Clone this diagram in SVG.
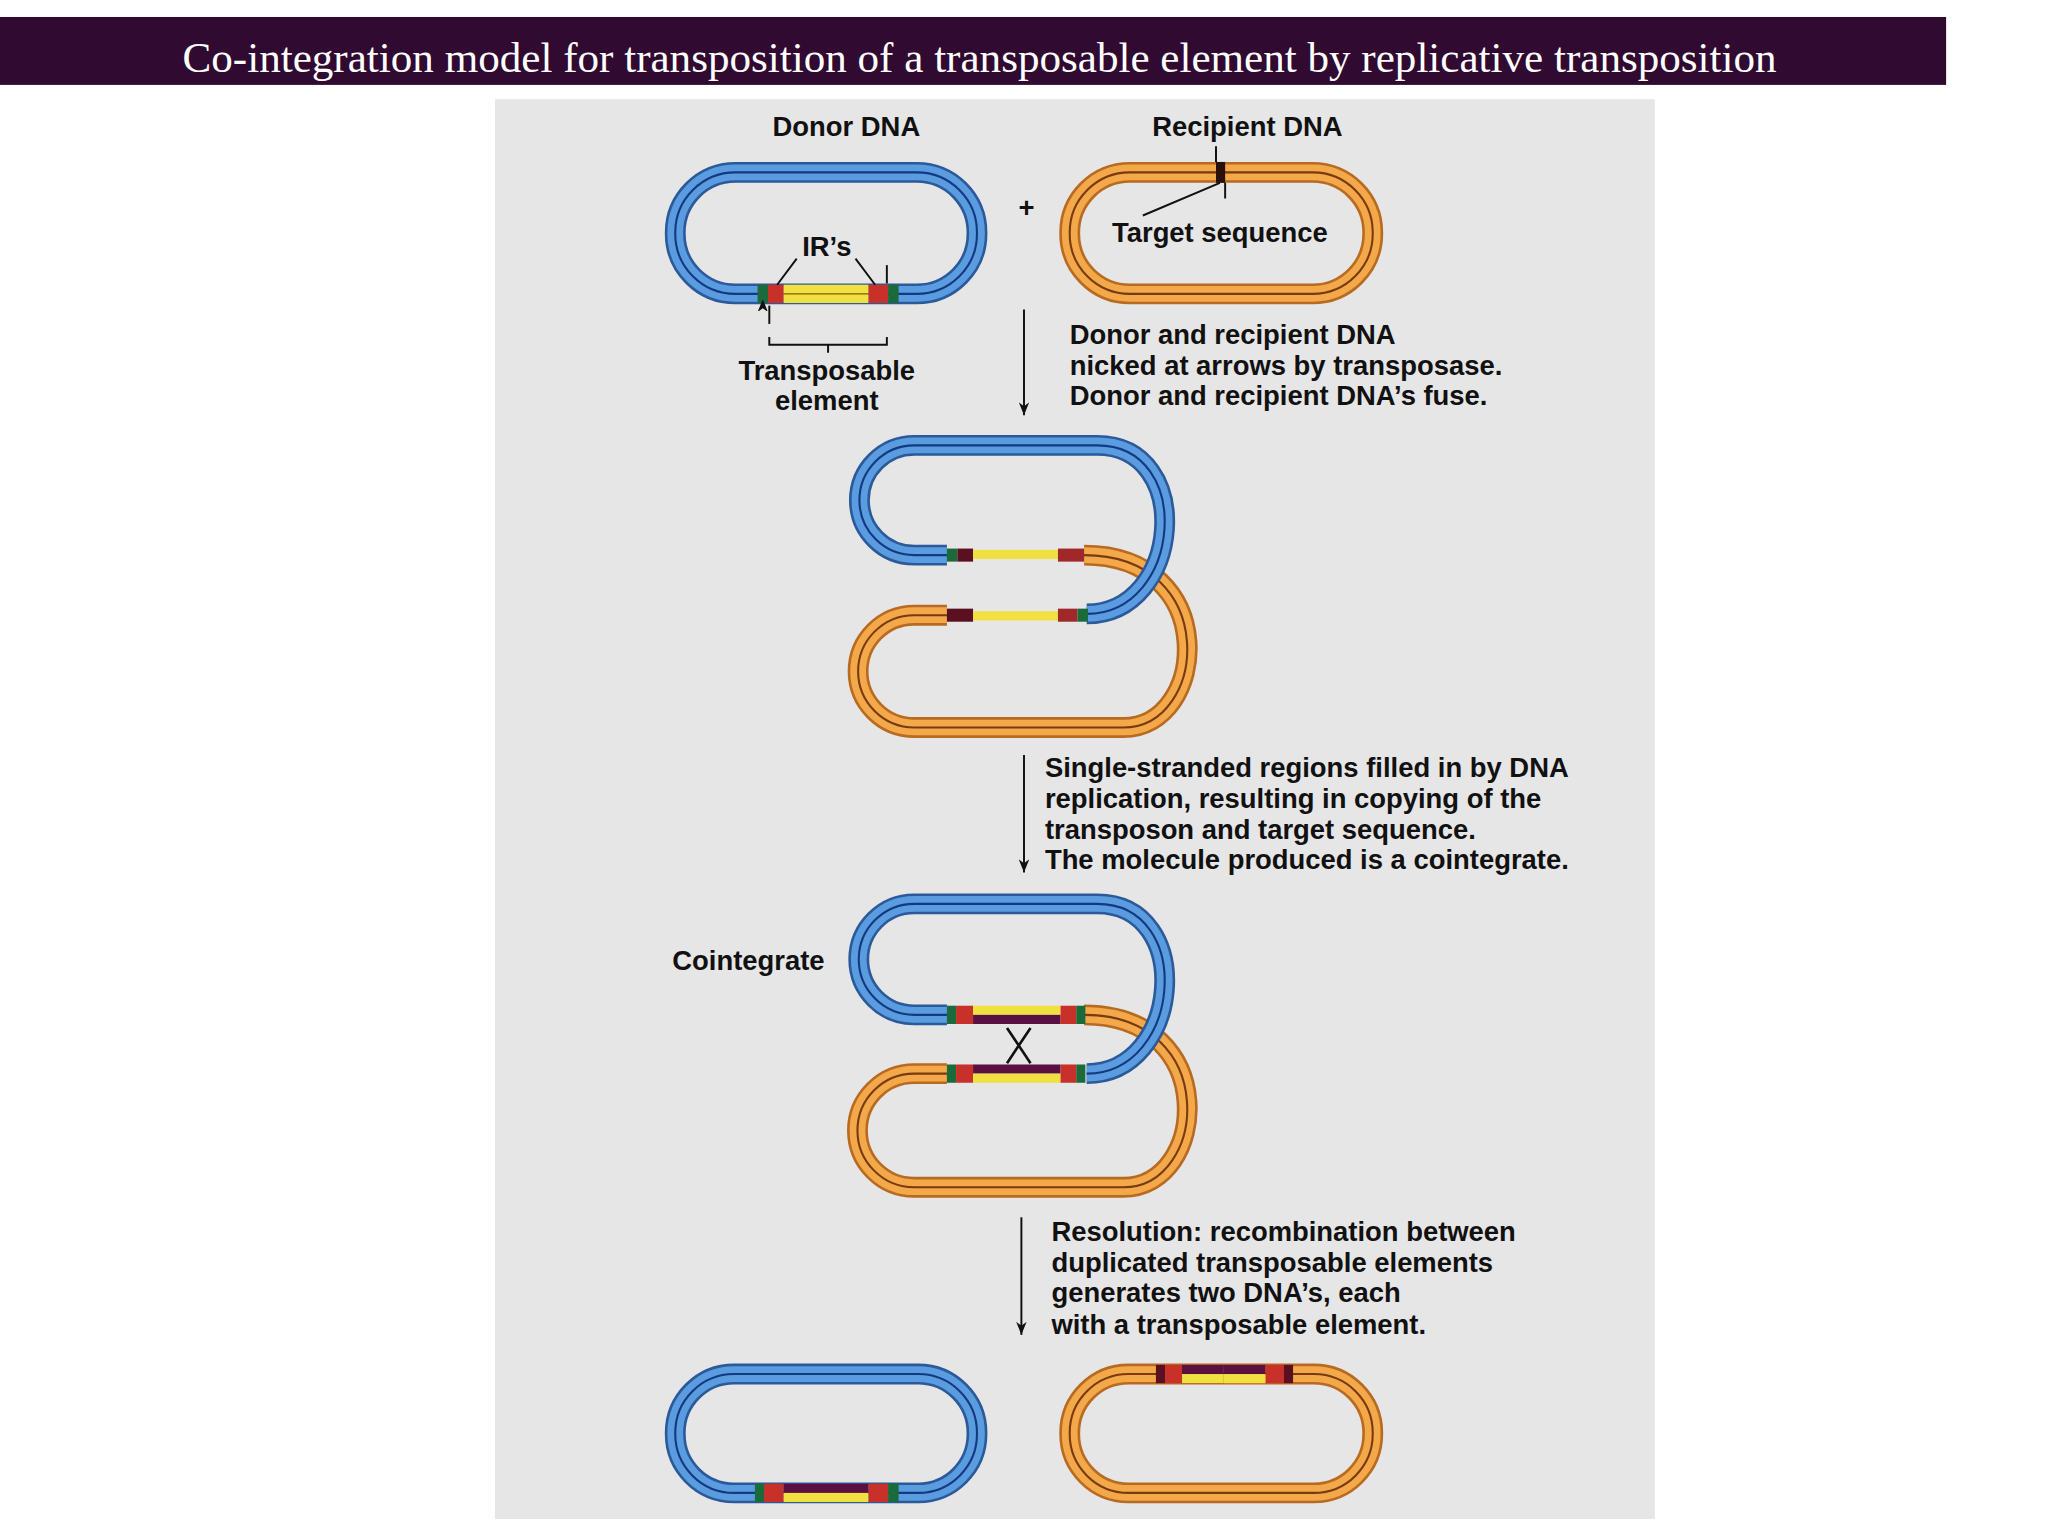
<svg xmlns="http://www.w3.org/2000/svg" width="2048" height="1536" viewBox="0 0 2048 1536">
<defs>
<style>
.t{font-family:"Liberation Sans",Arial,sans-serif;font-weight:bold;font-size:21px;fill:#111}
.bo{fill:none;stroke:#2a5a9a;stroke-width:16}
.bi{fill:none;stroke:#5b9be0;stroke-width:12}
.bl{fill:none;stroke:#123a80;stroke-width:1.6}
.oo{fill:none;stroke:#b86a20;stroke-width:16}
.oi{fill:none;stroke:#f3a84a;stroke-width:12}
.ol{fill:none;stroke:#7a3a10;stroke-width:1.6}
.ln{stroke:#111;stroke-width:1.5;fill:none}
</style>
<marker id="ah" markerWidth="8" markerHeight="10" refX="4" refY="10" orient="auto" markerUnits="userSpaceOnUse"><path d="M0,0 L4,10 L8,0 L4,3 Z" fill="#111" transform="rotate(-90 4 5)"/></marker>
<marker id="ad" viewBox="0 0 8 10" markerWidth="8" markerHeight="10" refX="4" refY="10" orient="0" markerUnits="userSpaceOnUse"><path d="M0,0 L4,10 L8,0 L4,3 Z" fill="#111"/></marker>
</defs>
<rect width="2048" height="1536" fill="#fff"/>
<g transform="scale(1.30612)">
<rect x="0" y="13" width="1490" height="52" fill="#300a30"/>
<text x="750" y="55" text-anchor="middle" font-family="Liberation Serif,serif" font-size="33" fill="#fff">Co-integration model for transposition of a transposable element by replicative transposition</text>
<rect x="379" y="76" width="888" height="1087" fill="#e6e6e6"/>

<g id="donor">
<rect x="517" y="132" width="231" height="93" rx="46" class="bo"/>
<rect x="517" y="132" width="231" height="93" rx="46" class="bi"/>
<rect x="517" y="132" width="231" height="93" rx="46" class="bl"/>
<rect x="580" y="218" width="8" height="14" fill="#1a6a3a"/><rect x="588" y="218" width="12" height="14" fill="#c8302a"/>
<rect x="600" y="218" width="65" height="14" fill="#f0e040"/><rect x="665" y="218" width="15" height="14" fill="#c8302a"/><rect x="680" y="218" width="8" height="14" fill="#1a6a3a"/>
<line x1="600" y1="225" x2="665" y2="225" stroke="#7a6010" stroke-width="1"/>
<text x="648" y="104" class="t" text-anchor="middle">Donor DNA</text>
<text x="633" y="196" class="t" text-anchor="middle">IR’s</text>
<path d="M610 198 L595 218 M655 198 L670 218" class="ln"/>
<path d="M589 248 L589 234" class="ln" marker-end="url(#ah)"/>
<path d="M679 203 L679 217" class="ln"/>
<path d="M589 258 V264 H679 V258 M634 264 V270" class="ln"/>
<text x="633" y="291" class="t" text-anchor="middle">Transposable</text>
<text x="633" y="314" class="t" text-anchor="middle">element</text>
</g>
<text x="786" y="166" class="t" text-anchor="middle">+</text>
<g id="recipient">
<rect x="819" y="132" width="232" height="93" rx="46" class="oo"/>
<rect x="819" y="132" width="232" height="93" rx="46" class="oi"/>
<rect x="819" y="132" width="232" height="93" rx="46" class="ol"/>
<rect x="931" y="124" width="7" height="16" fill="#2a1008"/>
<path d="M931 112 V124 M938 140 V152 M934 140 L875 165" class="ln"/>
<text x="955" y="104" class="t" text-anchor="middle">Recipient DNA</text>
<text x="934" y="185" class="t" text-anchor="middle">Target sequence</text>
</g>

<g id="connectors">
<line x1="784" y1="237" x2="784" y2="318" class="ln" marker-end="url(#ad)"/>
<line x1="784" y1="578" x2="784" y2="668" class="ln" marker-end="url(#ad)"/>
<line x1="782" y1="932" x2="782" y2="1022" class="ln" marker-end="url(#ad)"/>
</g>
<text class="t"><tspan x="819" y="263">Donor and recipient DNA</tspan><tspan x="819" y="287">nicked at arrows by transposase.</tspan><tspan x="819" y="310">Donor and recipient DNA’s fuse.</tspan></text>

<g id="fused">
<path id="op" d="M830 425 C935 425 925 557 860 557 L700 557 A43 43 0 0 1 700 471 L725 471" class="oo"/>
<path d="M830 425 C935 425 925 557 860 557 L700 557 A43 43 0 0 1 700 471 L725 471" class="oi"/>
<path d="M830 425 C935 425 925 557 860 557 L700 557 A43 43 0 0 1 700 471 L725 471" class="ol"/>
<path d="M725 425 L700 425 A42 42 0 0 1 700 341 L840 341 C915 341 905 470 832 470" class="bo"/>
<path d="M725 425 L700 425 A42 42 0 0 1 700 341 L840 341 C915 341 905 470 832 470" class="bi"/>
<path d="M725 425 L700 425 A42 42 0 0 1 700 341 L840 341 C915 341 905 470 832 470" class="bl"/>
<rect x="725" y="420" width="8" height="10" fill="#1a6a3a"/><rect x="733" y="420" width="12" height="10" fill="#5a1020"/><rect x="745" y="421" width="65" height="7" fill="#f0e040"/><rect x="810" y="420" width="20" height="10" fill="#a02828"/>
<rect x="725" y="466" width="20" height="10" fill="#5a1020"/><rect x="745" y="468" width="65" height="7" fill="#f0e040"/><rect x="810" y="466" width="15" height="10" fill="#a02828"/><rect x="825" y="466" width="8" height="10" fill="#1a6a3a"/>
</g>
<text class="t"><tspan x="800" y="595">Single-stranded regions filled in by DNA</tspan><tspan x="800" y="619">replication, resulting in copying of the</tspan><tspan x="800" y="642">transposon and target sequence.</tspan><tspan x="800" y="665">The molecule produced is a cointegrate.</tspan></text>

<g id="cointegrate">
<path d="M830 777 C935 777 925 909 860 909 L700 909 A43 43 0 0 1 700 822 L725 822" class="oo"/>
<path d="M830 777 C935 777 925 909 860 909 L700 909 A43 43 0 0 1 700 822 L725 822" class="oi"/>
<path d="M830 777 C935 777 925 909 860 909 L700 909 A43 43 0 0 1 700 822 L725 822" class="ol"/>
<path d="M725 777 L700 777 A42 42 0 0 1 700 692 L840 692 C915 692 905 822 832 822" class="bo"/>
<path d="M725 777 L700 777 A42 42 0 0 1 700 692 L840 692 C915 692 905 822 832 822" class="bi"/>
<path d="M725 777 L700 777 A42 42 0 0 1 700 692 L840 692 C915 692 905 822 832 822" class="bl"/>
<rect x="725" y="770" width="7" height="14" fill="#1a6a3a"/><rect x="732" y="770" width="13" height="14" fill="#c8302a"/><rect x="745" y="770" width="67" height="7" fill="#f0e040"/><rect x="745" y="777" width="67" height="7" fill="#5a1040"/><rect x="812" y="770" width="12" height="14" fill="#c8302a"/><rect x="824" y="770" width="7" height="14" fill="#1a6a3a"/>
<rect x="725" y="815" width="7" height="14" fill="#1a6a3a"/><rect x="732" y="815" width="13" height="14" fill="#c8302a"/><rect x="745" y="815" width="67" height="7" fill="#5a1040"/><rect x="745" y="822" width="67" height="7" fill="#f0e040"/><rect x="812" y="815" width="12" height="14" fill="#c8302a"/><rect x="824" y="815" width="7" height="14" fill="#1a6a3a"/>
<path d="M771 787 L789 814 M789 787 L771 814" stroke="#111" stroke-width="2"/>
<text x="573" y="743" class="t" text-anchor="middle">Cointegrate</text>
</g>
<text class="t"><tspan x="805" y="950">Resolution: recombination between</tspan><tspan x="805" y="974">duplicated transposable elements</tspan><tspan x="805" y="997">generates two DNA’s, each</tspan><tspan x="805" y="1021">with a transposable element.</tspan></text>

<g id="product1">
<rect x="517" y="1052" width="231" height="91" rx="45" class="bo"/>
<rect x="517" y="1052" width="231" height="91" rx="45" class="bi"/>
<rect x="517" y="1052" width="231" height="91" rx="45" class="bl"/>
<rect x="578" y="1136" width="7" height="14" fill="#1a6a3a"/><rect x="585" y="1136" width="15" height="14" fill="#c8302a"/><rect x="600" y="1136" width="65" height="7" fill="#5a1040"/><rect x="600" y="1143" width="65" height="7" fill="#f0e040"/><rect x="665" y="1136" width="15" height="14" fill="#c8302a"/><rect x="680" y="1136" width="8" height="14" fill="#1a6a3a"/>
</g>
<g id="product2">
<rect x="819" y="1052" width="232" height="91" rx="45" class="oo"/>
<rect x="819" y="1052" width="232" height="91" rx="45" class="oi"/>
<rect x="819" y="1052" width="232" height="91" rx="45" class="ol"/>
<rect x="885" y="1045" width="7" height="14" fill="#5a1020"/><rect x="892" y="1045" width="13" height="14" fill="#c8302a"/><rect x="905" y="1045" width="32" height="14" fill="#5a1040"/><rect x="937" y="1045" width="32" height="7" fill="#5a1040"/><rect x="937" y="1052" width="32" height="7" fill="#f0e040"/><rect x="905" y="1052" width="32" height="7" fill="#f0e040"/><rect x="969" y="1045" width="14" height="14" fill="#c8302a"/><rect x="983" y="1045" width="7" height="14" fill="#5a1020"/>
</g>
</g>
</svg>
